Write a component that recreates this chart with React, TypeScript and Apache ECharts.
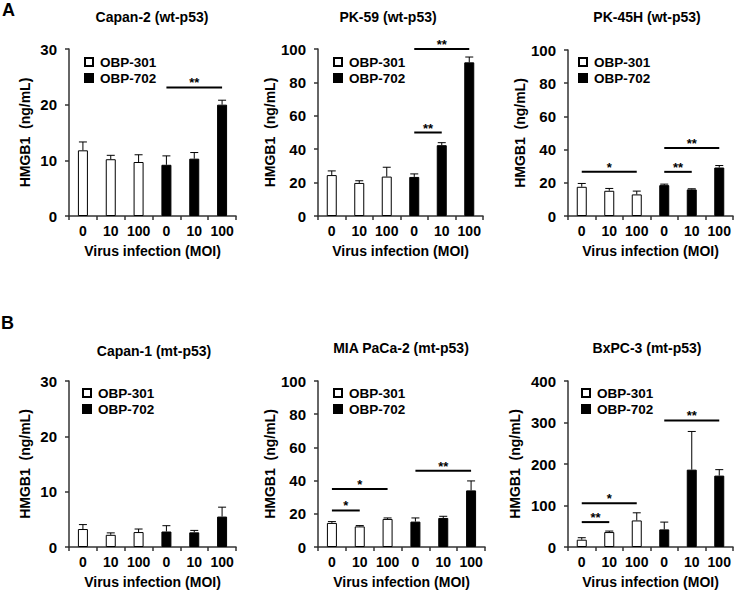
import React, { useEffect, useRef } from 'react';
import * as echarts from 'echarts';

const FONT = '"Liberation Sans", Arial, sans-serif';

const categories = ['0', '10', '100', '0', '10', '100'];
const seriesNames = ['OBP-301', 'OBP-702'];
const panelTitles = [
  'Capan-2 (wt-p53)',
  'PK-59 (wt-p53)',
  'PK-45H (wt-p53)',
  'Capan-1 (mt-p53)',
  'MIA PaCa-2 (mt-p53)',
  'BxPC-3 (mt-p53)',
];
const yMaxes = [30, 100, 100, 30, 100, 400];
const ySteps = [10, 20, 20, 10, 20, 100];

// means: first three = OBP-301 (MOI 0,10,100), last three = OBP-702
const capan2Means = [11.8, 10.2, 9.7, 9.2, 10.3, 20.0];
const capan2Errors = [1.5, 0.7, 1.3, 1.6, 1.1, 0.8];
const capan2Sig = [[3, 5, 23.1]];
const capan2SigLabels = ['**'];

const pk59Means = [24.5, 19.8, 23.6, 23.4, 42.4, 92.0];
const pk59Errors = [2.5, 1.3, 5.6, 1.8, 1.5, 3.2];
const pk59Sig = [[3, 4, 50], [3, 5, 100]];
const pk59SigLabels = ['**', '**'];

const pk45hMeans = [17.6, 15.2, 13.0, 18.6, 16.0, 29.2];
const pk45hErrors = [2.0, 1.4, 2.0, 0.6, 0.4, 1.2];
const pk45hSig = [[0, 2, 26.6], [3, 4, 26.6], [3, 5, 41]];
const pk45hSigLabels = ['*', '**', '**'];

const capan1Means = [3.25, 2.2, 2.7, 2.8, 2.65, 5.5];
const capan1Errors = [0.8, 0.35, 0.55, 1.05, 0.35, 1.7];
const capan1Sig: number[][] = [];
const capan1SigLabels: string[] = [];

const miaMeans = [14.5, 12.4, 16.9, 15.3, 17.5, 34.1];
const miaErrors = [0.8, 0.5, 0.6, 2.2, 1.0, 5.7];
const miaSig = [[0, 1, 22], [0, 2, 35], [3, 5, 46]];
const miaSigLabels = ['*', '*', '**'];

const bxpcMeans = [17.6, 36, 64, 42.4, 186.4, 172];
const bxpcErrors = [4.8, 2.4, 18.4, 17.6, 92, 14.4];
const bxpcSig = [[0, 1, 60], [0, 2, 105.6], [3, 5, 305]];
const bxpcSigLabels = ['**', '*', '**'];

const panels = [
  { means: capan2Means, errors: capan2Errors, sig: capan2Sig, sigLabels: capan2SigLabels },
  { means: pk59Means, errors: pk59Errors, sig: pk59Sig, sigLabels: pk59SigLabels },
  { means: pk45hMeans, errors: pk45hErrors, sig: pk45hSig, sigLabels: pk45hSigLabels },
  { means: capan1Means, errors: capan1Errors, sig: capan1Sig, sigLabels: capan1SigLabels },
  { means: miaMeans, errors: miaErrors, sig: miaSig, sigLabels: miaSigLabels },
  { means: bxpcMeans, errors: bxpcErrors, sig: bxpcSig, sigLabels: bxpcSigLabels },
];

// layout (pixels)
const gridLefts = [69, 318, 568, 69, 318, 568];
const gridTops = [49, 49, 50, 381, 381, 381];
const gridWidths = [167, 165, 165, 167, 167, 165];
const gridHeights = [167, 167, 166, 166, 166, 166];
const titleX = [152, 388, 647, 154, 401, 647];
const titleY = [17, 17, 17, 351, 348, 348];
const legendLefts = [79, 328, 573, 77, 328, 576];
const legendTops = [50, 50, 50, 381, 381, 381];
const yNameGaps = [37, 37, 37, 37, 37, 46];

function buildOption() {
  const axisColor = '#333';
  const grid = panels.map((_, p) => ({
    left: gridLefts[p],
    top: gridTops[p],
    width: gridWidths[p],
    height: gridHeights[p],
  }));
  const xAxis = panels.map((_, p) => ({
    type: 'category',
    gridIndex: p,
    data: categories,
    axisLine: { show: true, lineStyle: { color: axisColor, width: 1.5 } },
    axisTick: { show: true, length: 4, lineStyle: { color: axisColor, width: 1.5 } },
    axisLabel: {
      interval: 0,
      margin: 8,
      color: '#000',
      fontSize: 14,
      fontWeight: 'bold',
      fontFamily: FONT,
    },
    name: 'Virus infection (MOI)',
    nameLocation: 'middle',
    nameGap: 28,
    nameTextStyle: { color: '#000', fontSize: 14, fontWeight: 'bold', fontFamily: FONT },
  }));
  const yAxis = panels.map((_, p) => ({
    type: 'value',
    gridIndex: p,
    min: 0,
    max: yMaxes[p],
    interval: ySteps[p],
    splitLine: { show: false },
    axisLine: { show: true, lineStyle: { color: axisColor, width: 1.5 } },
    axisTick: { show: true, length: 4, lineStyle: { color: axisColor, width: 1.5 } },
    axisLabel: { margin: 12, color: '#000', fontSize: 15, fontWeight: 'bold', fontFamily: FONT },
    name: 'HMGB1  (ng/mL)',
    nameLocation: 'middle',
    nameRotate: 90,
    nameGap: yNameGaps[p],
    nameTextStyle: { color: '#000', fontSize: 14, fontWeight: 'bold', fontFamily: FONT },
  }));
  const legend = panels.map((_, p) => ({
    left: legendLefts[p],
    top: legendTops[p],
    orient: 'vertical',
    itemWidth: 8,
    itemHeight: 8,
    itemGap: 2,
    icon: 'rect',
    selectedMode: false,
    data: seriesNames,
    textStyle: { color: '#000', fontSize: 13.5, fontWeight: 'bold', fontFamily: FONT, padding: [0, 0, 0, 2] },
  }));

  const series: any[] = [];
  panels.forEach((panel, p) => {
    series.push({
      type: 'bar',
      name: seriesNames[0],
      xAxisIndex: p,
      yAxisIndex: p,
      barWidth: 10,
      barGap: '-100%',
      data: panel.means.map((v, i) => (i < 3 ? v : '-')),
      itemStyle: { color: '#fff', borderColor: '#000', borderWidth: 1 },
    });
    series.push({
      type: 'bar',
      name: seriesNames[1],
      xAxisIndex: p,
      yAxisIndex: p,
      barWidth: 10,
      barGap: '-100%',
      data: panel.means.map((v, i) => (i >= 3 ? v : '-')),
      itemStyle: { color: '#000', borderColor: '#000', borderWidth: 1 },
    });
    series.push({
      type: 'custom',
      name: 'err' + p,
      xAxisIndex: p,
      yAxisIndex: p,
      z: 5,
      encode: { x: 0, y: [1, 2] },
      data: panel.means.map((m, i) => [i, m, m + panel.errors[i]]),
      renderItem: (params: any, api: any) => {
        const i = api.value(0);
        const base = api.coord([i, api.value(1)]);
        const top = api.coord([i, api.value(2)]);
        return {
          type: 'group',
          children: [
            {
              type: 'line',
              shape: { x1: base[0], y1: base[1], x2: top[0], y2: top[1] },
              style: { stroke: '#000', lineWidth: 1 },
            },
            {
              type: 'line',
              shape: { x1: top[0] - 4, y1: top[1], x2: top[0] + 4, y2: top[1] },
              style: { stroke: '#000', lineWidth: 1 },
            },
          ],
        };
      },
    });
    if (panel.sig.length) {
      series.push({
        type: 'custom',
        name: 'sig' + p,
        xAxisIndex: p,
        yAxisIndex: p,
        z: 6,
        encode: { x: [0, 1], y: 2 },
        data: panel.sig,
        renderItem: (params: any, api: any) => {
          const a = api.coord([api.value(0), api.value(2)]);
          const b = api.coord([api.value(1), api.value(2)]);
          const label = panel.sigLabels[params.dataIndex];
          return {
            type: 'group',
            children: [
              {
                type: 'line',
                shape: { x1: a[0], y1: a[1], x2: b[0], y2: b[1] },
                style: { stroke: '#000', lineWidth: 2 },
              },
              {
                type: 'text',
                x: (a[0] + b[0]) / 2,
                y: a[1] + 2,
                style: {
                  text: label,
                  align: 'center',
                  verticalAlign: 'bottom',
                  fontSize: 13,
                  fontWeight: 'bold',
                  fontFamily: FONT,
                  fill: '#000',
                },
              },
            ],
          };
        },
      });
    }
  });

  const graphic: any[] = panels.map((_, p) => ({
    type: 'text',
    x: titleX[p],
    y: titleY[p],
    style: {
      text: panelTitles[p],
      align: 'center',
      verticalAlign: 'middle',
      fontSize: 14,
      fontWeight: 'bold',
      fontFamily: FONT,
      fill: '#000',
    },
  }));
  graphic.push({
    type: 'text',
    x: 2,
    y: 1,
    style: { text: 'A', fontSize: 18, fontWeight: 'bold', fontFamily: FONT, fill: '#000' },
  });
  graphic.push({
    type: 'text',
    x: 1,
    y: 314,
    style: { text: 'B', fontSize: 18, fontWeight: 'bold', fontFamily: FONT, fill: '#000' },
  });

  return {
    animation: false,
    backgroundColor: '#fff',
    grid,
    xAxis,
    yAxis,
    legend,
    series,
    graphic,
  };
}

export default function App() {
  const ref = useRef<HTMLDivElement>(null);
  useEffect(() => {
    if (!ref.current) return;
    const chart = echarts.init(ref.current, null, { renderer: 'svg' });
    chart.setOption(buildOption() as any);
    return () => chart.dispose();
  }, []);
  return (
    <div
      ref={ref}
      style={{ position: 'fixed', left: 0, top: 0, width: 736, height: 592, background: '#fff' }}
    />
  );
}
